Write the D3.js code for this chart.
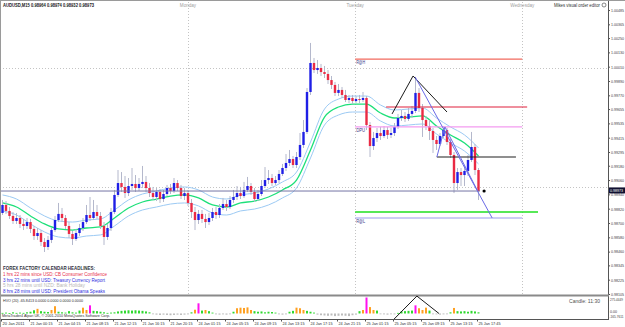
<!DOCTYPE html>
<html><head><meta charset="utf-8">
<script src="https://cdn.jsdelivr.net/npm/d3@7/dist/d3.min.js"></script>
<style>body{margin:0;background:#fff;}svg{display:block;font-family:"Liberation Sans",Arial,sans-serif;}</style>
</head><body><svg id="c" width="625" height="327"></svg>
<script>
// ---------- DATA ----------
const openP=[0.98784,0.98851,0.98801,0.98759,0.98717,0.98742,0.98692,0.98675,0.98708,0.98650,0.98591,0.98616,0.98541,0.98499,0.98558,0.98641,0.98725,0.98776,0.98742,0.98675,0.98608,0.98566,0.98616,0.98658,0.98708,0.98767,0.98742,0.98792,0.98759,0.98675,0.98583,0.98658,0.98792,0.98935,0.99035,0.99002,0.98951,0.99010,0.99027,0.98993,0.99027,0.99044,0.98993,0.98951,0.98918,0.98960,0.98901,0.98943,0.98993,0.98968,0.99035,0.98993,0.98926,0.98951,0.98868,0.98792,0.98725,0.98776,0.98734,0.98708,0.98742,0.98792,0.98767,0.98826,0.98859,0.98834,0.98893,0.98918,0.98951,0.98926,0.98977,0.99010,0.98960,0.98901,0.98943,0.99010,0.99060,0.99077,0.99035,0.99060,0.99111,0.99161,0.99203,0.99236,0.99186,0.99253,0.99354,0.99463,0.99798,1.00041,0.99982,0.99999,0.99965,0.99949,0.99898,0.99857,0.99790,0.99815,0.99773,0.99731,0.99748,0.99722,0.99739,0.99731,0.99748,0.99521,0.99345,0.99412,0.99454,0.99429,0.99479,0.99438,0.99454,0.99505,0.99580,0.99597,0.99572,0.99614,0.99639,0.99790,0.99664,0.99563,0.99513,0.99471,0.99396,0.99362,0.99429,0.99479,0.99379,0.99270,0.99035,0.99127,0.99102,0.99136,0.99228,0.99337,0.99144];
const highP=[0.98893,0.98884,0.98834,0.98792,0.98784,0.98767,0.98734,0.98742,0.98734,0.98675,0.98658,0.98641,0.98574,0.98591,0.98658,0.98759,0.98868,0.98826,0.98767,0.98708,0.98633,0.98650,0.98692,0.98742,0.98851,0.98918,0.98893,0.98851,0.98792,0.98708,0.98692,0.98826,0.98977,0.99144,0.99127,0.99094,0.99077,0.99161,0.99102,0.99077,0.99178,0.99094,0.99035,0.99002,0.98993,0.98985,0.98977,0.99019,0.99027,0.99077,0.99060,0.99019,0.98993,0.98977,0.98901,0.98834,0.98809,0.98809,0.98776,0.98784,0.98826,0.98834,0.98859,0.98910,0.98893,0.98926,0.98977,0.99010,0.99002,0.99044,0.99086,0.99035,0.98993,0.98977,0.99060,0.99169,0.99144,0.99111,0.99094,0.99144,0.99195,0.99278,0.99312,0.99262,0.99295,0.99454,0.99563,0.99831,1.00209,1.00083,1.00066,1.00033,1.00016,0.99982,0.99932,0.99882,0.99865,0.99840,0.99815,0.99773,0.99773,0.99764,0.99773,0.99798,0.99764,0.99546,0.99463,0.99496,0.99505,0.99513,0.99505,0.99496,0.99538,0.99614,0.99647,0.99630,0.99664,0.99681,0.99924,0.99831,0.99697,0.99597,0.99563,0.99496,0.99429,0.99454,0.99513,0.99496,0.99404,0.99295,0.99161,0.99161,0.99178,0.99270,0.99463,0.99362,0.99161];
const lowP=[0.98767,0.98776,0.98734,0.98692,0.98692,0.98658,0.98641,0.98650,0.98616,0.98558,0.98558,0.98507,0.98457,0.98474,0.98532,0.98625,0.98708,0.98708,0.98650,0.98574,0.98516,0.98549,0.98591,0.98633,0.98692,0.98717,0.98725,0.98734,0.98650,0.98516,0.98558,0.98633,0.98776,0.98918,0.98960,0.98910,0.98926,0.98977,0.98960,0.98968,0.98993,0.98960,0.98918,0.98893,0.98884,0.98868,0.98876,0.98926,0.98943,0.98951,0.98968,0.98901,0.98893,0.98843,0.98742,0.98641,0.98692,0.98700,0.98658,0.98683,0.98717,0.98734,0.98742,0.98809,0.98801,0.98817,0.98868,0.98893,0.98901,0.98910,0.98960,0.98935,0.98876,0.98884,0.98926,0.98993,0.99027,0.99010,0.99019,0.99035,0.99094,0.99136,0.99178,0.99161,0.99161,0.99228,0.99329,0.99446,0.99773,0.99957,0.99949,0.99932,0.99915,0.99865,0.99823,0.99764,0.99764,0.99748,0.99714,0.99706,0.99697,0.99706,0.99706,0.99714,0.99479,0.99253,0.99312,0.99379,0.99396,0.99412,0.99404,0.99412,0.99429,0.99488,0.99555,0.99546,0.99555,0.99580,0.99622,0.99630,0.99421,0.99479,0.99396,0.99287,0.99312,0.99345,0.99412,0.99354,0.99245,0.98951,0.98977,0.99010,0.99010,0.99094,0.99211,0.99102,0.98893];
const closeP=[0.98851,0.98801,0.98759,0.98717,0.98742,0.98692,0.98675,0.98708,0.98650,0.98591,0.98616,0.98541,0.98499,0.98558,0.98641,0.98725,0.98776,0.98742,0.98675,0.98608,0.98566,0.98616,0.98658,0.98708,0.98767,0.98742,0.98792,0.98759,0.98675,0.98583,0.98658,0.98792,0.98935,0.99035,0.99002,0.98951,0.99010,0.99027,0.98993,0.99027,0.99044,0.98993,0.98951,0.98918,0.98960,0.98901,0.98943,0.98993,0.98968,0.99035,0.98993,0.98926,0.98951,0.98868,0.98792,0.98725,0.98776,0.98734,0.98708,0.98742,0.98792,0.98767,0.98826,0.98859,0.98834,0.98893,0.98918,0.98951,0.98926,0.98977,0.99010,0.98960,0.98901,0.98943,0.99010,0.99060,0.99077,0.99035,0.99060,0.99111,0.99161,0.99203,0.99236,0.99186,0.99253,0.99354,0.99463,0.99798,1.00041,0.99982,0.99999,0.99965,0.99949,0.99898,0.99857,0.99790,0.99815,0.99773,0.99731,0.99748,0.99722,0.99739,0.99731,0.99748,0.99521,0.99345,0.99412,0.99454,0.99429,0.99479,0.99438,0.99454,0.99505,0.99580,0.99597,0.99572,0.99614,0.99639,0.99790,0.99664,0.99563,0.99513,0.99471,0.99396,0.99362,0.99429,0.99479,0.99379,0.99270,0.99035,0.99127,0.99102,0.99136,0.99228,0.99337,0.99144,0.98968];

const maIdx=[0,4,8,12,16,20,24,28,32,36,40,44,48,52,56,60,64,68,72,76,80,84,88,92,96,100,104,108,112,116,120,124,128,132,136];
const maMid=[0.98868,0.98834,0.98759,0.98692,0.98650,0.98641,0.98658,0.98667,0.98742,0.98826,0.98876,0.98901,0.98926,0.98935,0.98910,0.98851,0.98834,0.98868,0.98884,0.98918,0.98977,0.99060,0.99312,0.99588,0.99672,0.99697,0.99697,0.99622,0.99580,0.99588,0.99597,0.99513,0.99438,0.99370,0.99262];
const maUp=[0.98935,0.98901,0.98826,0.98759,0.98717,0.98708,0.98725,0.98734,0.98809,0.98893,0.98943,0.98968,0.98993,0.99002,0.98977,0.98918,0.98901,0.98935,0.98951,0.98985,0.99044,0.99127,0.99379,0.99655,0.99739,0.99764,0.99764,0.99689,0.99647,0.99655,0.99664,0.99580,0.99505,0.99438,0.99329];
const maLow=[0.98801,0.98767,0.98692,0.98625,0.98583,0.98574,0.98591,0.98600,0.98675,0.98759,0.98809,0.98834,0.98859,0.98868,0.98843,0.98784,0.98767,0.98801,0.98817,0.98851,0.98910,0.98993,0.99245,0.99521,0.99605,0.99630,0.99630,0.99555,0.99513,0.99521,0.99530,0.99446,0.99370,0.99303,0.99195];

const hvo=[10,15,5,20,10,15,10,20,30,55,80,40,30,25,60,125,30,20,15,40,20,15,50,100,60,140,45,40,30,20,10,15,20,35,45,50,55,50,55,50,45,35,20,-10,-20,-25,-20,-25,-30,-25,-20,-25,-20,-15,20,65,175,50,60,40,15,-15,-20,-15,-20,-10,30,90,100,95,105,60,40,30,35,20,30,25,15,-15,-20,-15,30,45,100,90,60,45,30,15,-20,-30,-35,-40,-35,-45,-40,-35,-40,-45,-30,-20,40,60,275,110,60,50,-10,-15,-20,-10,-15,10,35,40,45,50,140,90,60,100,50,-10,-15,-20,-15,-10,20,95,40,35,40,30,45,35,20];

const priceTicks=[1.00485,1.00365,1.00250,1.00130,1.00010,0.99890,0.99770,0.99655,0.99535,0.99415,0.99295,0.99180,0.99060,0.98940,0.98820,0.98700,0.98580,0.98460,0.98345,0.98225,0.98105];
const timeIdx=[0,8,16,24,32,40,48,56,64,72,80,88,96,104,112,120,128,136];
const timeLabels=["20 Jan 2011","21 Jan 00:15","21 Jan 04:15","21 Jan 08:15","21 Jan 12:15","21 Jan 16:15","21 Jan 20:15","24 Jan 01:15","24 Jan 05:15","24 Jan 09:15","24 Jan 13:15","24 Jan 17:15","24 Jan 21:15","25 Jan 01:15","25 Jan 05:15","25 Jan 09:15","25 Jan 13:15","25 Jan 17:45"];
const dayNames=["Monday","Tuesday","Wednesday"];
const dayIdx=[53,100.75,148.5];
const roundLevels=[1.0000,0.9900];

const levelNames=["R@H","DPU","","R@L","","",""];
const levelPrice=[1.00074,0.99505,0.98792,0.98742,0.99672,0.99253,0.98968];
const levelFrom=[100.75,100.75,100.75,100.75,109.6,124.1,-1];
const levelTo=[148.5,148.5,153,148.5,149.9,146.7,136.4];

const triIdx=[111.3,117.3,127], triPrice=[0.99614,0.99932,0.99630];
const trendA_idx=[117.9,139.9], trendA_price=[0.99924,0.98742];
const trendB_idx=[124.1,126.4,135.6], trendB_price=[0.99253,0.99505,0.98977];
const triHvoIdx=[111.9,118.4,124.7], triHvoVal=[-95,300,0];
const lastPrice=0.98973;

const newsHead="FOREX FACTORY CALENDAR  HEADLINES:";
const newsLines=["1 hrs 22 mins since USD: CB Consumer Confidence","3 hrs 22 mins until USD: Treasury Currency Report","5 hrs 28 mins until NZD: Bank Holiday","8 hrs 28 mins until USD: President Obama Speaks"];

// ---------- STYLE ----------
const levelColors=["#f26a5e","#f39bf0","#1fe01f","#9c9cec","#e0203c","#202020","#7474a4"];
const levelWidths=[1.2,1.2,1.6,1.2,1.2,1.2,1];
const newsColors=["#e8304c","#2f2fe0","#b8b8b8","#2f2fe0"];
const newsLens=[104,102,82,102];

const svg=d3.select("#c");
const x=d3.scaleLinear().domain([0,136]).range([2.5,478.5]);
const y=d3.scaleLinear().domain([0.98105,1.00485]).range([294,10]);
const hy=d3.scaleLinear().domain([-95,275]).range([319,297.5]);

svg.append("rect").attr("width",625).attr("height",327).attr("fill","#ffffff");

function txt(g,px,py,s,size,color,len,anchor,weight){
  const t=g.append("text").attr("x",px).attr("y",py).text(s).attr("font-size",size).attr("fill",color)
   .attr("text-anchor",anchor||"start").attr("font-weight",weight||"normal");
  if(len) t.attr("textLength",len).attr("lengthAdjust","spacingAndGlyphs");
  return t;
}

svg.append("clipPath").attr("id","mc").append("rect").attr("x",1).attr("y",2).attr("width",607).attr("height",293);
const main=svg.append("g").attr("clip-path","url(#mc)");

// grid
main.selectAll(".rl").data(roundLevels).enter().append("line")
 .attr("x1",0).attr("x2",608).attr("y1",d=>Math.round(y(d))+0.5).attr("y2",d=>Math.round(y(d))+0.5)
 .attr("stroke","#c4c4c4").attr("stroke-dasharray","1,2");
main.selectAll(".vd").data(dayIdx).enter().append("line")
 .attr("x1",d=>Math.round(x(d))+0.5).attr("x2",d=>Math.round(x(d))+0.5).attr("y1",2).attr("y2",295)
 .attr("stroke","#c4c4c4").attr("stroke-dasharray","1,2");

// MA envelope
const idx=d3.range(maIdx.length);
function maLine(arr){return d3.line().x(i=>x(maIdx[i])).y(i=>y(arr[i])).curve(d3.curveMonotoneX)(idx);}
main.append("path").attr("d",maLine(maUp)).attr("fill","none").attr("stroke","#9ccaf4").attr("stroke-width",1);
main.append("path").attr("d",maLine(maLow)).attr("fill","none").attr("stroke","#9ccaf4").attr("stroke-width",1);
main.append("path").attr("d",maLine(maMid)).attr("fill","none").attr("stroke","#1ee07a").attr("stroke-width",1.3);

// candles
const ci=d3.range(closeP.length);
main.selectAll(".wk").data(ci).enter().append("line")
 .attr("x1",i=>x(i)).attr("x2",i=>x(i)).attr("y1",i=>y(highP[i])).attr("y2",i=>y(lowP[i]))
 .attr("stroke","#b4b8cc").attr("stroke-width",1);
main.selectAll(".bd").data(ci).enter().append("rect")
 .attr("x",i=>x(i)-1.2).attr("width",2.4)
 .attr("y",i=>Math.min(y(openP[i]),y(closeP[i])))
 .attr("height",i=>Math.max(1,Math.abs(y(openP[i])-y(closeP[i]))))
 .attr("fill",i=>closeP[i]>=openP[i]?"#1f1fe6":"#ea2a44");

// level lines
levelPrice.forEach((p,k)=>{
  main.append("line").attr("x1",x(levelFrom[k])).attr("x2",x(levelTo[k]))
   .attr("y1",y(p)).attr("y2",y(p)).attr("stroke",levelColors[k]).attr("stroke-width",levelWidths[k]);
  if(levelNames[k]) txt(main,x(levelFrom[k])+1,y(p)+5,levelNames[k],4.6,"#3a3a8a",9);
});

// triangle and trend lines
const lf=d3.line();
main.append("path").attr("d",lf(triIdx.map((d,i)=>[x(d),y(triPrice[i])]))).attr("fill","none").attr("stroke","#1a1a1a").attr("stroke-width",1);
main.append("path").attr("d",lf(trendA_idx.map((d,i)=>[x(d),y(trendA_price[i])]))).attr("fill","none").attr("stroke","#6a6ae6").attr("stroke-width",1);
main.append("path").attr("d",lf(trendB_idx.map((d,i)=>[x(d),y(trendB_price[i])]))).attr("fill","none").attr("stroke","#6a6ae6").attr("stroke-width",1);
main.append("circle").attr("cx",x(137.6)).attr("cy",y(0.98968)).attr("r",1.6).attr("fill","#000");

// texts in main
txt(svg,3,7,"AUDUSD,M15  0.98964 0.98974 0.98932 0.98973",5,"#202020",91,"start","bold");
dayNames.forEach((d,i)=>txt(svg,x(dayIdx[i]),7,d,4.6,"#a0a0a0",null,"middle"));
txt(svg,554,7,"Mikes visual order editor",4.8,"#303030",46);
svg.append("circle").attr("cx",604).attr("cy",5).attr("r",2).attr("fill","none").attr("stroke","#555").attr("stroke-width",0.7);
txt(svg,3,270,newsHead,4.6,"#303040",92,"start","bold");
newsLines.forEach((s,i)=>txt(svg,3,276+i*5.6,s,4.6,newsColors[i],newsLens[i]));

// price axis
const ax=svg.append("g").attr("transform","translate(608,0)")
 .call(d3.axisRight(y).tickValues(priceTicks).tickFormat(d3.format(".5f")).tickSize(2).tickSizeOuter(0));
ax.select(".domain").remove();
ax.selectAll("text").attr("font-size",4.2).attr("fill","#404040").attr("x",3).attr("font-family","Liberation Sans")
 .attr("textLength",13).attr("lengthAdjust","spacingAndGlyphs");
ax.selectAll("line").attr("stroke","#555");
svg.append("line").attr("x1",608.5).attr("x2",608.5).attr("y1",1).attr("y2",319).attr("stroke","#555");
// current price box
svg.append("rect").attr("x",609).attr("y",y(lastPrice)-3).attr("width",16).attr("height",6).attr("fill","#101030");
txt(svg,610,y(lastPrice)+1.6,d3.format(".5f")(lastPrice),4.2,"#ffffff",13);

// separator + bottom panel
svg.append("rect").attr("x",0).attr("y",294.5).attr("width",609).attr("height",2).attr("fill","#8a8a8a");
const bp=svg.append("g");
bp.selectAll(".hb").data(ci).enter().append("rect")
 .attr("x",i=>x(i)-1).attr("width",2)
 .attr("y",i=>Math.min(hy(0),hy(hvo[i]))).attr("height",i=>Math.max(0.8,Math.abs(hy(hvo[i])-hy(0))))
 .attr("fill",i=>hvo[i]<0?"#bcbcbc":hvo[i]<60?"#2fd82f":hvo[i]<130?"#ffa020":"#ff10f0");
bp.append("path").attr("d",lf(triHvoIdx.map((d,i)=>[x(d),hy(triHvoVal[i])]))).attr("fill","none").attr("stroke","#1a1a1a").attr("stroke-width",1);
txt(svg,3,302,"HVO (20) -65.8413 0.0000 0.0000 0.0000 0.0000",4.4,"#303030",80);
txt(svg,2,317,"MetaTrader4 Alpari UK, \u00a9 2001-2010 MetaQuotes Software Corp.",4.4,"#303030",108);
txt(svg,569,303,"Candle: 11:30",5.6,"#505050",31);
txt(svg,610,hy(275)+3,"275.4449",3.4,"#404040",13);
txt(svg,610,hy(0)-0.5,"0.00",3.6,"#404040",7);
txt(svg,609.5,hy(-95)-0.8,"-165.7611",3.2,"#404040",14);

// time axis
svg.append("line").attr("x1",0).attr("x2",609).attr("y1",319.5).attr("y2",319.5).attr("stroke","#555");
const tx=svg.append("g").attr("transform","translate(0,319.5)")
 .call(d3.axisBottom(d3.scaleLinear().domain([0,136]).range([1,477])).tickValues(timeIdx).tickFormat((d,i)=>timeLabels[i]).tickSize(2).tickSizeOuter(0));
tx.select(".domain").remove();
tx.selectAll("line").attr("stroke","#555");
tx.selectAll("text").attr("font-size",4.4).attr("fill","#303030").attr("text-anchor","start").attr("x",1).attr("y",2.5).attr("textLength",22).attr("lengthAdjust","spacingAndGlyphs").attr("font-family","Liberation Sans");

// frame
svg.append("line").attr("x1",0).attr("x2",625).attr("y1",0.5).attr("y2",0.5).attr("stroke","#9a9a9a");
svg.append("line").attr("x1",0.5).attr("x2",0.5).attr("y1",0).attr("y2",327).attr("stroke","#9a9a9a");
</script></body></html>
